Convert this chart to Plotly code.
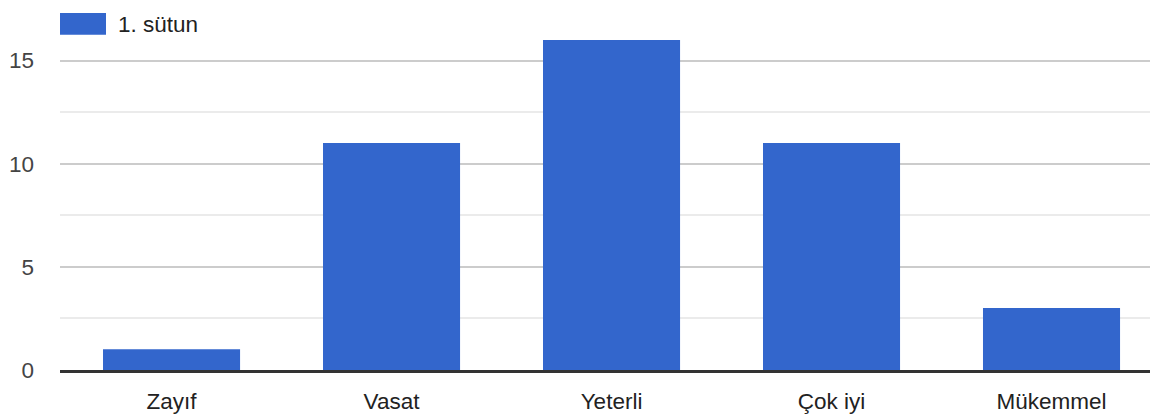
import plotly.graph_objects as go

categories = ["Zayıf", "Vasat", "Yeterli", "Çok iyi", "Mükemmel"]
values = [1, 11, 16, 11, 3]
series_name = "1. sütun"
y_ticks = [0, 5, 10, 15]

BLUE = "#3366cc"
FONT = "Arial, Liberation Sans, sans-serif"
FS = 22.5

# page body has an 8px margin, so the figure is sized/margined to compensate
W, H = 1150, 406
ML, MR, MT, MB = 52, 0, 1, 41
PW, PH = W - ML - MR, H - MT - MB

fig = go.Figure()
fig.add_trace(go.Bar(x=categories, y=values, name=series_name, marker_color=BLUE,
                     marker_line_width=0, width=0.623, showlegend=False))

fig.update_layout(
    width=W, height=H,
    margin=dict(l=ML, r=MR, t=MT, b=MB),
    paper_bgcolor="white", plot_bgcolor="white",
    font=dict(family=FONT, size=FS, color="#222222"),
    xaxis=dict(
        range=[-0.507, 4.484], showgrid=False, showline=True, linecolor="#333333",
        linewidth=3, ticks="", ticklabelstandoff=9,
        tickfont=dict(family=FONT, size=FS, color="#222222"),
    ),
    yaxis=dict(
        range=[0, 17.5], tickvals=y_ticks, showgrid=True, gridcolor="#cccccc", gridwidth=2,
        zeroline=False, ticks="", ticklabelstandoff=25,
        tickfont=dict(family=FONT, size=FS, color="#444444"),
        minor=dict(tickvals=[2.5, 7.5, 12.5, 17.5], showgrid=True, gridcolor="#ebebeb", gridwidth=2),
    ),
)

# legend swatch and label (paper coords)
fig.add_shape(type="rect", xref="paper", yref="paper",
              x0=0, x1=46 / PW, y0=1 - 26 / PH, y1=1 - 4 / PH,
              fillcolor=BLUE, line_width=0)
fig.add_annotation(x=56 / PW, y=1 - 16 / PH, xref="paper", yref="paper",
                   text=series_name, showarrow=False, xanchor="left", yanchor="middle",
                   font=dict(family=FONT, size=FS, color="#222222"))

fig.write_html("out.html")
